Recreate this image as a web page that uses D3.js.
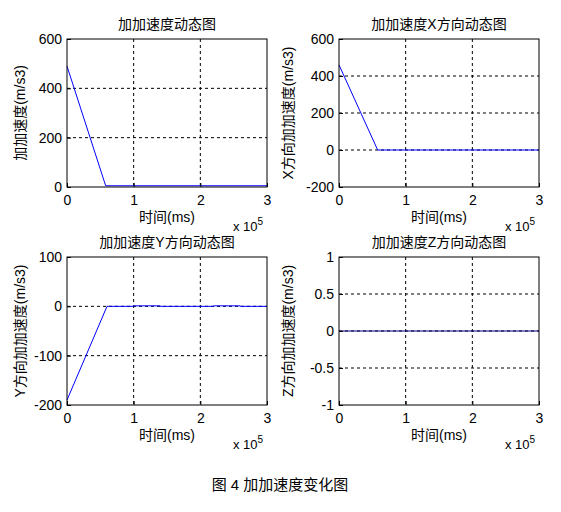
<!DOCTYPE html><html><head><meta charset="utf-8"><script src="https://cdn.jsdelivr.net/npm/d3@7"></script>
<style>body{margin:0;background:#fff}text{font-family:"Liberation Sans","Noto Sans CJK SC",sans-serif;fill:#000}</style></head><body>
<svg id="c" width="561" height="512"></svg>
<script>
const xTicks=[0,1,2,3];
const titles=["加加速度动态图","加加速度X方向动态图","加加速度Y方向动态图","加加速度Z方向动态图"];
const yLabels=["加加速度(m/s3)","X方向加加速度(m/s3)","Y方向加加速度(m/s3)","Z方向加加速度(m/s3)"];
const yDomains=[[0,600],[-200,600],[-200,100],[-1,1]];
const yTicks=[[0,200,400,600],[-200,0,200,400,600],[-200,-100,0,100],[-1,-0.5,0,0.5,1]];
const sTotal=[[0,490],[0.58,5],[3,5]];
const sX=[[0,460],[0.58,0],[3,0]];
const sY=[[0,-190],[0.6,0],[1,0],[1,1],[1.4,1],[1.4,0],[2.2,0],[2.2,1],[2.6,1],[2.6,0],[3,0]];
const sZ=[[0,0],[3,0]];
const series=[sTotal,sX,sY,sZ];
const boxes=[[67,39],[339,39],[67,257],[339,257]];
const W=200,H=148;
const svg=d3.select("#c");
series.forEach((s,i)=>{
 const [ox,oy]=boxes[i];
 const g=svg.append("g").attr("transform",`translate(${ox},${oy})`);
 const x=d3.scaleLinear().domain([0,3]).range([0,W]);
 const y=d3.scaleLinear().domain(yDomains[i]).range([H,0]);
 g.append("rect").attr("width",W).attr("height",H).attr("fill","#fff");
 xTicks.slice(1,-1).forEach(t=>g.append("line").attr("x1",x(t)).attr("x2",x(t)).attr("y1",0).attr("y2",H).attr("stroke","#000").attr("stroke-dasharray","3,3"));
 yTicks[i].slice(1,-1).forEach(t=>g.append("line").attr("y1",y(t)).attr("y2",y(t)).attr("x1",0).attr("x2",W).attr("stroke","#000").attr("stroke-dasharray","3,3"));
 g.append("path").datum(s).attr("fill","none").attr("stroke",i==3?"#000080":"#0000ff").attr("d",d3.line().x(d=>x(d[0])).y(d=>y(d[1])));
 const ax=g.append("g").attr("transform",`translate(0,${H})`).call(d3.axisBottom(x).tickValues(xTicks).tickFormat(d3.format("d")).tickSizeInner(-4).tickSizeOuter(0).tickPadding(8));
 const ay=g.append("g").call(d3.axisLeft(y).tickValues(yTicks[i]).tickFormat(d=>String(d)).tickSizeInner(-4).tickSizeOuter(0).tickPadding(5));
 [ax,ay].forEach(a=>{a.select(".domain").remove();a.selectAll("text").style("font-size","14px");});
 g.append("rect").attr("width",W).attr("height",H).attr("fill","none").attr("stroke","#000");
 g.append("text").attr("x",W/2).attr("y",-10).attr("text-anchor","middle").style("font-size","14px").text(titles[i]);
 g.append("text").attr("x",W/2).attr("y",H+35).attr("text-anchor","middle").style("font-size","14px").text("时间(ms)");
 const e=g.append("text").attr("x",W-34).attr("y",H+44).style("font-size","13px");
 e.append("tspan").text("x 10");e.append("tspan").attr("dy",-6).style("font-size","10px").text("5");
 g.append("text").attr("transform",`translate(${i%2?-46:-42},${H/2}) rotate(-90)`).attr("text-anchor","middle").style("font-size","14px").text(yLabels[i]);
});
svg.append("text").attr("x",280).attr("y",490).attr("text-anchor","middle").style("font-size","15px").text("图 4  加加速度变化图");
</script></body></html>
